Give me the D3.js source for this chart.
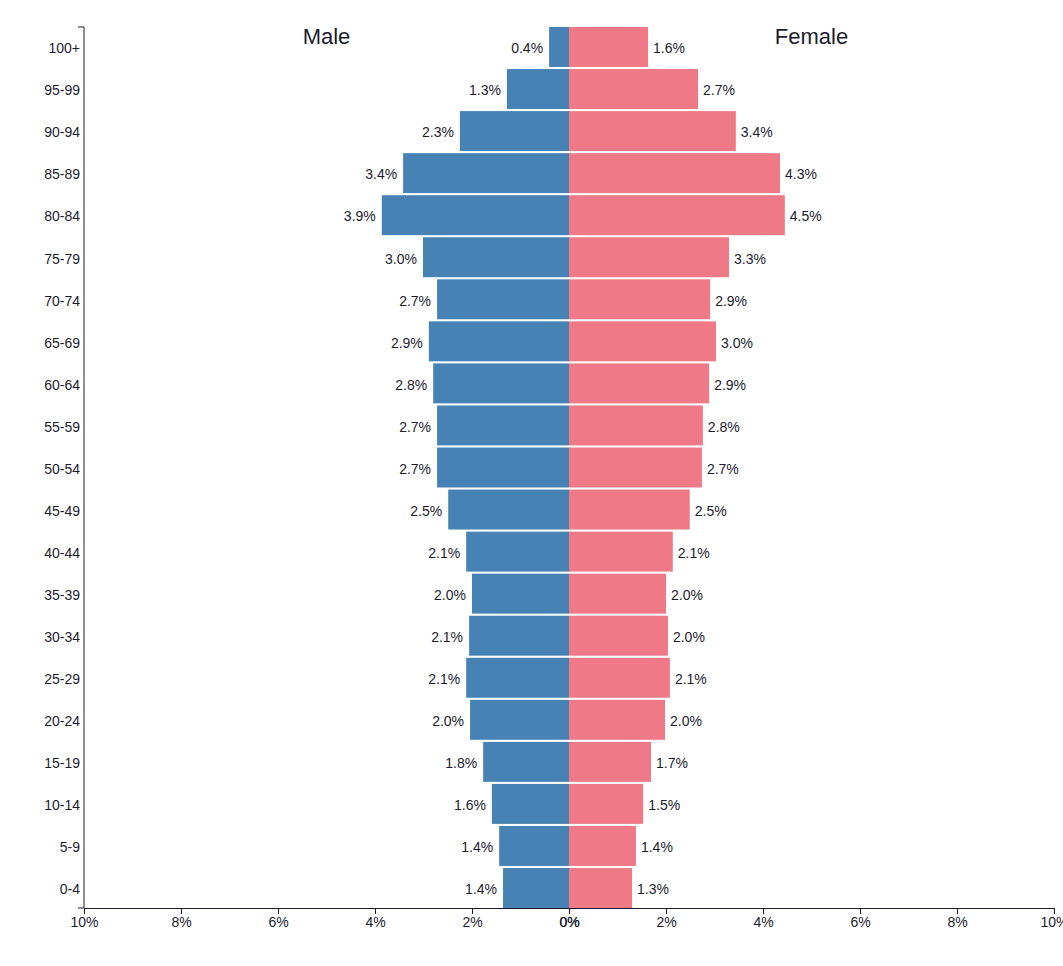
<!DOCTYPE html>
<html>
<head>
<meta charset="utf-8">
<script src="https://cdn.jsdelivr.net/npm/d3@7"></script>
<style>
  body { margin: 0; background: #fff; }
  svg { font-family: "Liberation Sans", Arial, sans-serif; }
  .tick text { font-size: 14px; fill: #1c1c2e; }
  .domain, .tick line { stroke: #1c1c2e; }
</style>
</head>
<body>
<div id="container"></div>
<script>
let w = 1063;
let h = 966;
let margin = {top: 27, right: 9, bottom: 58, left: 84};

// age groups, top to bottom
let ageGroups = ["100+","95-99","90-94","85-89","80-84","75-79","70-74","65-69","60-64","55-59",
  "50-54","45-49","40-44","35-39","30-34","25-29","20-24","15-19","10-14","5-9","0-4"];
// percent of population
let maleValues = [0.41,1.28,2.25,3.42,3.86,3.01,2.72,2.89,2.80,2.72,
  2.72,2.49,2.12,2.00,2.06,2.12,2.04,1.77,1.59,1.44,1.36];
let femaleValues = [1.63,2.66,3.44,4.35,4.45,3.30,2.91,3.03,2.89,2.76,
  2.74,2.49,2.14,2.00,2.04,2.08,1.98,1.69,1.53,1.38,1.30];
let xTicks = [0,2,4,6,8,10];

let maleColor = "#4682b4";
let femaleColor = "#ef7986";

let viz = d3.select("#container").append("svg")
    .attr("width", w)
    .attr("height", h)
;

let mid = margin.left + (w - margin.left - margin.right)/2;

let xMale = d3.scaleLinear().domain([0,10]).range([mid, margin.left]);
let xFemale = d3.scaleLinear().domain([0,10]).range([mid, w - margin.right]);
let yScale = d3.scaleBand().domain(ageGroups).range([margin.top, h - margin.bottom]).paddingInner(0.05);

let data = ageGroups.map((g,i)=>({age: g, male: maleValues[i], female: femaleValues[i]}));

// bars
let rowGroups = viz.selectAll(".row").data(data).enter()
  .append("g")
    .attr("class", "row")
;
rowGroups.append("rect")
    .attr("x", d=>xMale(d.male))
    .attr("y", d=>yScale(d.age))
    .attr("width", d=>mid - xMale(d.male))
    .attr("height", yScale.bandwidth())
    .attr("fill", maleColor)
;
rowGroups.append("rect")
    .attr("x", mid)
    .attr("y", d=>yScale(d.age))
    .attr("width", d=>xFemale(d.female) - mid)
    .attr("height", yScale.bandwidth())
    .attr("fill", femaleColor)
;

// value labels
rowGroups.append("text")
    .text(d=>d.male.toFixed(1) + "%")
    .attr("x", d=>xMale(d.male) - 6)
    .attr("y", d=>yScale(d.age) + yScale.bandwidth()/2)
    .attr("dy", "0.45em")
    .attr("text-anchor", "end")
    .style("font-size", "14px")
    .style("fill", "#1c1c2e")
;
rowGroups.append("text")
    .text(d=>d.female.toFixed(1) + "%")
    .attr("x", d=>xFemale(d.female) + 5)
    .attr("y", d=>yScale(d.age) + yScale.bandwidth()/2)
    .attr("dy", "0.45em")
    .attr("text-anchor", "start")
    .style("font-size", "14px")
    .style("fill", "#1c1c2e")
;

// axes
let fmt = d=>d + "%";
viz.append("g")
    .attr("transform", "translate(0,"+(h-margin.bottom)+")")
    .call(d3.axisBottom(xMale).tickValues(xTicks).tickFormat(fmt))
;
viz.append("g")
    .attr("transform", "translate(0,"+(h-margin.bottom)+")")
    .call(d3.axisBottom(xFemale).tickValues(xTicks).tickFormat(fmt))
;
let yAxisGroup = viz.append("g")
    .attr("transform", "translate("+margin.left+",0)")
    .call(d3.axisLeft(yScale).tickSize(0).tickPadding(4))
;
yAxisGroup.selectAll(".tick text").attr("dy", "0.45em");
yAxisGroup.select(".domain").attr("d", "M-6,"+margin.top+"H0V"+(h-margin.bottom)+"H-6");

// titles
viz.append("text")
    .text("Male")
    .attr("x", (margin.left + mid)/2)
    .attr("y", 44)
    .attr("text-anchor", "middle")
    .style("font-size", "22px")
    .style("fill", "#1c1c2e")
;
viz.append("text")
    .text("Female")
    .attr("x", (mid + w - margin.right)/2)
    .attr("y", 44)
    .attr("text-anchor", "middle")
    .style("font-size", "22px")
    .style("fill", "#1c1c2e")
;
</script>
</body>
</html>
